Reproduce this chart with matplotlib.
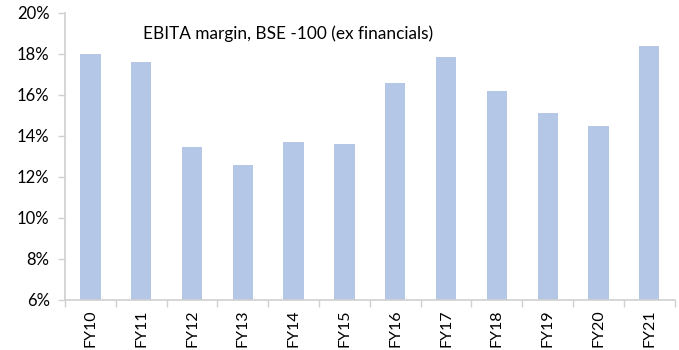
import matplotlib.pyplot as plt
from matplotlib.ticker import FuncFormatter, FixedLocator

# EBITA margin of BSE-100 companies excluding financials, in percent
years = ['FY10', 'FY11', 'FY12', 'FY13', 'FY14', 'FY15',
         'FY16', 'FY17', 'FY18', 'FY19', 'FY20', 'FY21']
margin = [18.0, 17.6, 13.45, 12.6, 13.7, 13.6,
          16.6, 17.85, 16.2, 15.1, 14.5, 18.4]

plt.rcParams['font.family'] = ['Lato', 'DejaVu Sans']

fig = plt.figure(figsize=(6.79, 3.5), dpi=100)
ax = fig.add_axes([0.0957, 0.143, 0.898, 0.820])

x = range(len(years))
ax.bar(x, margin, width=0.4, color='#B4C7E7', bottom=0)

ax.set_ylim(6, 20)
ax.set_xlim(-0.5, len(years) - 0.5)
ax.set_yticks(range(6, 21, 2))
ax.yaxis.set_major_formatter(FuncFormatter(lambda v, p: f'{v:.0f}%'))

ax.set_xticks(list(x))
ax.set_xticklabels(years, rotation=90)
ax.xaxis.set_minor_locator(FixedLocator([i - 0.5 for i in range(len(years) + 1)]))
ax.tick_params(axis='x', which='major', length=0, pad=7, labelsize=11.5)
ax.tick_params(axis='x', which='minor', length=5, color='#D0D0D0', width=1)
ax.tick_params(axis='y', length=5, color='#D0D0D0', width=1, labelsize=12, pad=6)

for side in ['top', 'right']:
    ax.spines[side].set_visible(False)
for side in ['left', 'bottom']:
    ax.spines[side].set_color('#D0D0D0')
    ax.spines[side].set_linewidth(1.2)

ax.text(0.128, 0.955, 'EBITA margin, BSE -100 (ex financials)',
        transform=ax.transAxes, fontsize=12.4, va='top', ha='left')

fig.savefig('out.png', dpi=100)
